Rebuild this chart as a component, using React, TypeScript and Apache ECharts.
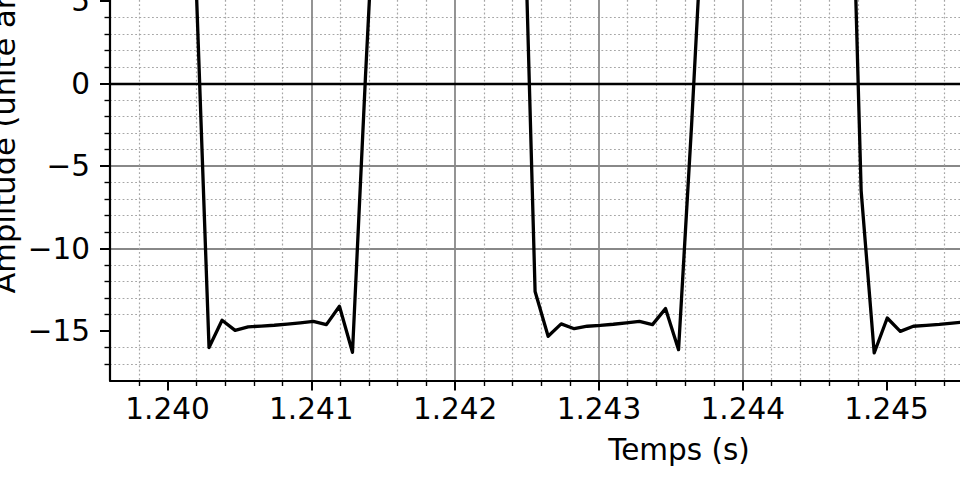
import React, { useEffect, useRef } from 'react';
import * as echarts from 'echarts';

// Sample times (s)
const times: number[] = [
  1.2395630, 1.2397444, 1.2399258, 1.2401072, 1.2401979,
  1.2402886, 1.2403793, 1.2404700, 1.2405607, 1.2406514, 1.2407421, 1.2408328,
  1.2409235, 1.2410142, 1.2411049, 1.2411956, 1.2412863, 1.2413770, 1.2414677,
  1.2417398, 1.2421026, 1.2424654,
  1.2425561, 1.2426468, 1.2427375, 1.2428282, 1.2429189, 1.2430096, 1.2431003,
  1.2431910, 1.2432817, 1.2433724, 1.2434631, 1.2435538, 1.2436445, 1.2437352,
  1.2440073, 1.2443701, 1.2447329,
  1.2448236, 1.2449143, 1.2450050, 1.2450957, 1.2451864, 1.2452771, 1.2453678,
  1.2454585, 1.2455492,
];

// Amplitudes (arbitrary units)
const amplitudes: number[] = [
  15.2, 15.0, 15.1, 14.8, 6.3,
  -16.0, -14.35, -14.96, -14.75, -14.70, -14.65, -14.58,
  -14.50, -14.41, -14.61, -13.50, -16.29, 0.5, 16.0,
  15.2, 15.0, 16.0,
  -12.6, -15.32, -14.57, -14.86, -14.71, -14.66, -14.59,
  -14.50, -14.41, -14.61, -13.64, -16.13, -2.5, 12.5,
  15.3, 15.0, 22.0,
  -6.5, -16.33, -14.21, -15.02, -14.71, -14.66, -14.60,
  -14.52, -14.44,
];

const xTickValues: number[] = [1.240, 1.241, 1.242, 1.243, 1.244, 1.245];
const yTickValues: number[] = [-15, -10, -5, 0, 5];

const xTitle = 'Temps (s)';
const yTitle = 'Amplitude (unité arbitraire)';

const FONT = 'DejaVu Sans';
const FS = 29.5;

export default function App() {
  const ref = useRef<HTMLDivElement>(null);

  useEffect(() => {
    if (!ref.current) return;
    const chart = echarts.init(ref.current, undefined, { renderer: 'svg' });
    const data = times.map((t, i) => [t, amplitudes[i]]);

    const axisCommon = {
      axisLine: { show: true, onZero: false, lineStyle: { color: '#000', width: 2.2 } },
      axisTick: { show: true, length: 10, lineStyle: { color: '#000', width: 2 } },
      minorTick: { show: true, splitNumber: 5, length: 5.5, lineStyle: { color: '#000', width: 1.4 } },
      splitLine: {
        show: true,
        showMinLine: false,
        showMaxLine: false,
        lineStyle: { color: '#888888', width: 1.8, type: 'solid' },
      },
      minorSplitLine: {
        show: true,
        lineStyle: { color: '#a6a6a6', width: 1.2, type: [1.8, 2.4] },
      },
    };

    chart.setOption({
      animation: false,
      backgroundColor: '#ffffff',
      grid: {
        left: 110,
        top: 0,
        right: 0,
        bottom: 120.5,
        containLabel: false,
        outerBoundsMode: 'none',
      },
      xAxis: {
        type: 'value',
        min: 1.2396,
        max: 1.245511,
        minInterval: 0.001,
        maxInterval: 0.001,
        splitNumber: 5,
        ...axisCommon,
        axisTick: { ...axisCommon.axisTick, customValues: xTickValues },
        axisLabel: {
          customValues: xTickValues,
          showMinLabel: true,
          showMaxLabel: true,
          margin: 13,
          color: '#000',
          fontFamily: FONT,
          fontSize: FS,
          formatter: (v: number) => v.toFixed(3),
        },
      },
      yAxis: {
        type: 'value',
        min: -18,
        max: 5.068,
        minInterval: 5,
        maxInterval: 5,
        splitNumber: 5,
        ...axisCommon,
        axisTick: { ...axisCommon.axisTick, customValues: yTickValues },
        axisLabel: {
          customValues: yTickValues,
          showMinLabel: true,
          showMaxLabel: true,
          margin: 20,
          color: '#000',
          fontFamily: FONT,
          fontSize: FS,
          formatter: (v: number) => (v < 0 ? '\u2212' + Math.abs(v) : String(v)),
        },
      },
      series: [
        {
          type: 'line',
          data,
          showSymbol: false,
          symbol: 'none',
          lineStyle: { color: '#000', width: 3.3, join: 'round' },
          z: 3,
          markLine: {
            silent: true,
            symbol: ['none', 'none'],
            label: { show: false },
            lineStyle: { color: '#000', width: 2.3, type: 'solid' },
            data: [{ yAxis: 0 }],
          },
        },
      ],
      graphic: [
        {
          type: 'text',
          x: 679,
          y: 450,
          style: {
            text: xTitle,
            fontFamily: FONT,
            fontSize: FS,
            fill: '#000',
            align: 'center',
            verticalAlign: 'middle',
          },
        },
        {
          type: 'text',
          x: 4,
          y: 293.5,
          rotation: Math.PI / 2,
          style: {
            text: yTitle,
            fontFamily: FONT,
            fontSize: 30.5,
            fill: '#000',
            align: 'left',
            verticalAlign: 'middle',
          },
        },
      ],
    });

    return () => chart.dispose();
  }, []);

  return (
    <div
      ref={ref}
      style={{ position: 'absolute', left: 0, top: 0, width: 960, height: 501, background: '#fff' }}
    />
  );
}
